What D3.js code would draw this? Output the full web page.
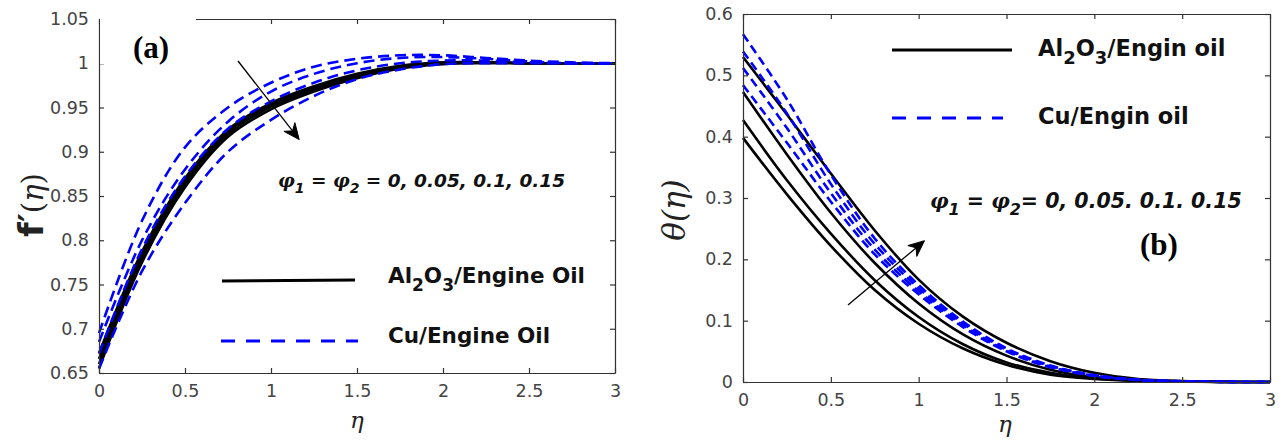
<!DOCTYPE html>
<html>
<head>
<meta charset="utf-8">
<script src="https://cdn.jsdelivr.net/npm/d3@7"></script>
<style>
  body { margin: 0; background: #fff; }
  svg { display: block; }
</style>
</head>
<body>
<svg id="chart" width="1282" height="443"></svg>
<script>
// eta grid shared by every curve
const eta = [0, 0.25, 0.5, 0.75, 1, 1.25, 1.5, 1.75, 2, 2.25, 2.5, 2.75, 3];

// (a) velocity f'(eta)
const fpAl = [
    [0.672, 0.787, 0.870, 0.925, 0.955, 0.974, 0.988, 0.997, 1.001, 1.001, 1.0, 1.0, 1.0],
    [0.666, 0.783, 0.867, 0.923, 0.953, 0.972, 0.987, 0.996, 1.000, 1.001, 1.0, 1.0, 1.0],
    [0.660, 0.779, 0.864, 0.920, 0.951, 0.970, 0.985, 0.995, 1.000, 1.001, 1.0, 1.0, 1.0],
    [0.655, 0.775, 0.860, 0.917, 0.948, 0.968, 0.983, 0.994, 0.999, 1.000, 1.0, 1.0, 1.0]
];
const fpCu = [
    [0.695, 0.822, 0.905, 0.950, 0.978, 0.996, 1.005, 1.009, 1.009, 1.006, 1.003, 1.001, 1.0],
    [0.685, 0.800, 0.880, 0.934, 0.968, 0.988, 1.000, 1.006, 1.007, 1.005, 1.002, 1.000, 1.0],
    [0.672, 0.790, 0.872, 0.926, 0.957, 0.978, 0.992, 1.000, 1.003, 1.003, 1.001, 1.000, 1.0],
    [0.655, 0.765, 0.842, 0.900, 0.936, 0.963, 0.982, 0.993, 0.999, 1.000, 1.0, 1.0, 1.0]
];

// (b) temperature theta(eta)
const thAl = [
    [0.398, 0.306, 0.222, 0.150, 0.095, 0.055, 0.028, 0.012, 0.005, 0.0018, 0.0006, 0.0001, 0],
    [0.427, 0.329, 0.242, 0.166, 0.106, 0.062, 0.032, 0.015, 0.006, 0.002, 0.0007, 0.0001, 0],
    [0.473, 0.371, 0.276, 0.194, 0.128, 0.078, 0.043, 0.020, 0.008, 0.003, 0.001, 0.0002, 0],
    [0.530, 0.436, 0.340, 0.247, 0.167, 0.107, 0.064, 0.034, 0.015, 0.005, 0.0015, 0.0003, 0]
];
const thCu = [
    [0.484, 0.390, 0.294, 0.208, 0.143, 0.090, 0.050, 0.024, 0.010, 0.003, 0.001, 0.0002, 0],
    [0.512, 0.414, 0.308, 0.216, 0.148, 0.093, 0.051, 0.025, 0.010, 0.003, 0.001, 0.0002, 0],
    [0.539, 0.438, 0.323, 0.225, 0.153, 0.096, 0.053, 0.026, 0.011, 0.004, 0.001, 0.0002, 0],
    [0.567, 0.461, 0.338, 0.234, 0.158, 0.099, 0.055, 0.027, 0.011, 0.004, 0.001, 0.0002, 0]
];

const xTicks = [0, 0.5, 1, 1.5, 2, 2.5, 3];
const yTicksA = [0.65, 0.7, 0.75, 0.8, 0.85, 0.9, 0.95, 1, 1.05];
const yTicksB = [0, 0.1, 0.2, 0.3, 0.4, 0.5, 0.6];

const svg = d3.select("#chart");
svg.append("rect").attr("width", 1282).attr("height", 443).attr("fill", "#fff");

const axisCol = "#333";
const tickFont = "'DejaVu Sans', sans-serif";

function frame(g, x, y, yTicks) {
    let [x0, x1] = x.range();
    let [y0, y1] = y.range();
    let bottom = g.append("g").attr("transform", "translate(0," + y0 + ")")
        .call(d3.axisBottom(x).tickValues(xTicks).tickSizeInner(-5).tickSizeOuter(0).tickPadding(12).tickFormat(d => String(d)));
    let left = g.append("g").attr("transform", "translate(" + x0 + ",0)")
        .call(d3.axisLeft(y).tickValues(yTicks).tickSizeInner(-5).tickSizeOuter(0).tickPadding(10).tickFormat(d => String(d)));
    let top = g.append("g").attr("transform", "translate(0," + y1 + ")")
        .call(d3.axisTop(x).tickValues(xTicks).tickSizeInner(-5).tickSizeOuter(0).tickFormat(""));
    let right = g.append("g").attr("transform", "translate(" + x1 + ",0)")
        .call(d3.axisRight(y).tickValues(yTicks).tickSizeInner(-5).tickSizeOuter(0).tickFormat(""));
    [bottom, left, top, right].forEach(function(a) {
        a.selectAll("path, line").attr("stroke", axisCol).attr("stroke-width", 1.2);
        a.selectAll("text").attr("fill", "#444").style("font-family", tickFont).style("font-size", "17.5px");
    });
}

function drawCurves(g, x, y, sets, color, dash) {
    let line = d3.line()
        .x((d, i) => x(eta[i]))
        .y(d => y(d))
        .curve(d3.curveCatmullRom.alpha(0.5));
    g.selectAll(null).data(sets).enter().append("path")
        .attr("d", line)
        .attr("fill", "none")
        .attr("stroke", color)
        .attr("stroke-width", 2.6)
        .attr("stroke-dasharray", dash);
}

// thin annotation arrow with a swept-back head
function arrow(g, x1, y1, x2, y2) {
    let a = Math.atan2(y2 - y1, x2 - x1);
    let c = Math.cos(a), s = Math.sin(a);
    g.append("line").attr("x1", x1).attr("y1", y1)
        .attr("x2", x2 - 8 * c).attr("y2", y2 - 8 * s)
        .attr("stroke", "#000").attr("stroke-width", 1.3);
    let head = [[2, 0], [-14, -7], [-9, 0], [-14, 7]];
    let pts = head.map(p => (x2 + p[0] * c - p[1] * s).toFixed(1) + "," + (y2 + p[0] * s + p[1] * c).toFixed(1));
    g.append("polygon").attr("points", pts.join(" "))
        .attr("fill", "#000").attr("stroke", "#000").attr("stroke-width", 1);
}

function subText(g, x, y, parts, size, weight, style, family) {
    let t = g.append("text").attr("x", x).attr("y", y)
        .style("font-size", size + "px").style("font-weight", weight)
        .style("font-style", style).style("font-family", family).attr("fill", "#111");
    let shift = 0;
    parts.forEach(function(p) {
        let s = t.append("tspan").text(p[0]);
        let target = p[1] ? Math.round(size * 0.35) : 0;
        s.attr("dy", target - shift);
        shift = target;
        if (p[1]) s.style("font-size", Math.round(size * 0.78) + "px");
        if (p[2]) s.style("font-family", p[2]);
    });
    return t;
}

// ---------- panel (a) ----------
const xA = d3.scaleLinear().domain([0, 3]).range([99, 615]);
const yA = d3.scaleLinear().domain([0.65, 1.05]).range([373, 19]);
const gA = svg.append("g");

drawCurves(gA, xA, yA, fpAl, "#000", null);
drawCurves(gA, xA, yA, fpCu, "#0000ff", "11,6");
frame(gA, xA, yA, yTicksA);

// the (a) tag sits on a white box that hides part of the top border
gA.append("rect").attr("x", 100).attr("y", 14).attr("width", 96).attr("height", 50).attr("fill", "#fff");
gA.append("text").attr("x", 133).attr("y", 58).text("(a)")
    .style("font-family", "'Liberation Serif', serif").style("font-weight", "bold").style("font-size", "31px");

arrow(gA, 238, 61, 298, 138);

subText(gA, 278, 187, [["φ", 0, "'DejaVu Serif', serif"], ["1", 1], [" = ", 0], ["φ", 0, "'DejaVu Serif', serif"], ["2", 1], [" = 0, 0.05, 0.1, 0.15", 0]],
    18.5, "bold", "italic", "'DejaVu Sans', sans-serif");

// legend (a)
gA.append("line").attr("x1", 222).attr("x2", 355).attr("y1", 281).attr("y2", 280).attr("stroke", "#000").attr("stroke-width", 3);
gA.append("line").attr("x1", 221).attr("x2", 358).attr("y1", 341).attr("y2", 341).attr("stroke", "#0000ff").attr("stroke-width", 3).attr("stroke-dasharray", "14,11");
subText(gA, 388, 283, [["Al", 0], ["2", 1], ["O", 0], ["3", 1], ["/Engine Oil", 0]], 21.5, "bold", "normal", "'DejaVu Sans', sans-serif");
subText(gA, 388, 343, [["Cu/Engine Oil", 0]], 21.5, "bold", "normal", "'DejaVu Sans', sans-serif");

// axis labels (a)
gA.append("text").attr("x", 357).attr("y", 428).attr("text-anchor", "middle").text("η")
    .style("font-family", "'DejaVu Serif', serif").style("font-style", "italic").style("font-size", "23px").attr("fill", "#222");
let yl = gA.append("text").attr("transform", "translate(43,205) rotate(-90)").attr("text-anchor", "middle").attr("fill", "#222");
yl.append("tspan").text("f′").style("font-family", "'DejaVu Sans', sans-serif").style("font-weight", "bold").style("font-size", "34px");
yl.append("tspan").text("(").style("font-family", "'DejaVu Serif', serif").style("font-size", "29px");
yl.append("tspan").text("η").style("font-family", "'DejaVu Serif', serif").style("font-style", "italic").style("font-size", "29px");
yl.append("tspan").text(")").style("font-family", "'DejaVu Serif', serif").style("font-size", "29px");

// ---------- panel (b) ----------
const xB = d3.scaleLinear().domain([0, 3]).range([743, 1270]);
const yB = d3.scaleLinear().domain([0, 0.6]).range([382, 14]);
const gB = svg.append("g");

drawCurves(gB, xB, yB, thAl, "#000", null);
drawCurves(gB, xB, yB, thCu, "#0000ff", "9,5");
frame(gB, xB, yB, yTicksB);

arrow(gB, 848, 305, 923, 242);

subText(gB, 930, 208, [["φ", 0, "'DejaVu Serif', serif"], ["1", 1], [" = ", 0], ["φ", 0, "'DejaVu Serif', serif"], ["2", 1], ["= 0, 0.05. 0.1. 0.15", 0]],
    20.5, "bold", "italic", "'DejaVu Sans', sans-serif");

gB.append("text").attr("x", 1140).attr("y", 255).text("(b)")
    .style("font-family", "'Liberation Serif', serif").style("font-weight", "bold").style("font-size", "31px");

// legend (b)
gB.append("line").attr("x1", 892).attr("x2", 1012).attr("y1", 50).attr("y2", 50).attr("stroke", "#000").attr("stroke-width", 3);
gB.append("line").attr("x1", 892).attr("x2", 1003).attr("y1", 118).attr("y2", 118).attr("stroke", "#0000ff").attr("stroke-width", 3).attr("stroke-dasharray", "14,11");
subText(gB, 1038, 56, [["Al", 0], ["2", 1], ["O", 0], ["3", 1], ["/Engin oil", 0]], 22.5, "bold", "normal", "'DejaVu Sans', sans-serif");
subText(gB, 1038, 124, [["Cu/Engin oil", 0]], 22.5, "bold", "normal", "'DejaVu Sans', sans-serif");

// axis labels (b)
gB.append("text").attr("x", 1005).attr("y", 432).attr("text-anchor", "middle").text("η")
    .style("font-family", "'DejaVu Serif', serif").style("font-style", "italic").style("font-size", "23px").attr("fill", "#222");
gB.append("text").attr("transform", "translate(685,210) rotate(-90)").attr("text-anchor", "middle").text("θ(η)")
    .style("font-family", "'DejaVu Serif', serif").style("font-style", "italic").style("font-size", "31px").attr("fill", "#222");
</script>
</body>
</html>
